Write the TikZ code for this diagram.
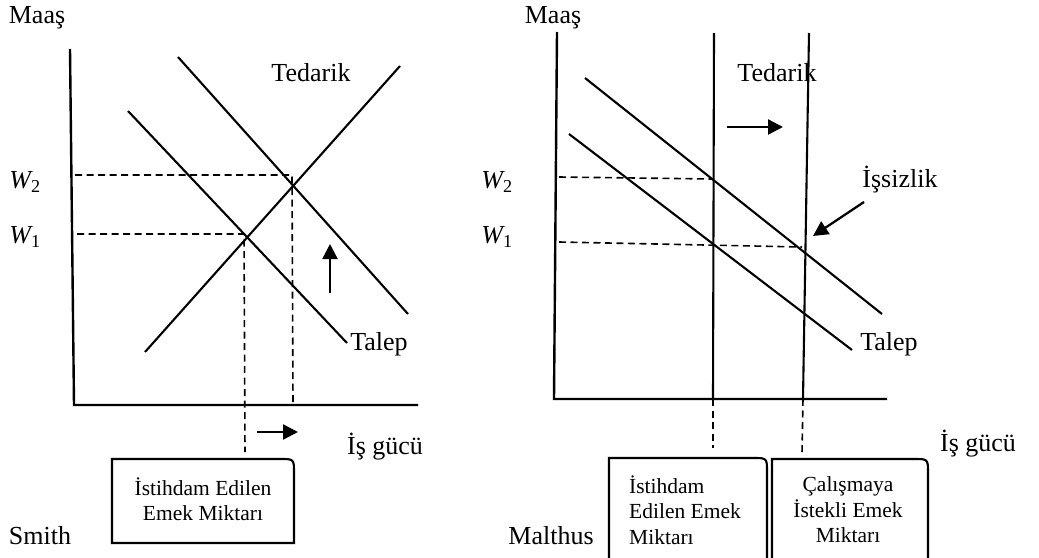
\documentclass[tikz,border=0pt]{standalone}
\usepackage{fontspec}
\setmainfont{Liberation Serif}
\usetikzlibrary{arrows.meta}
\begin{document}
\begin{tikzpicture}[x=1pt,y=-1pt,
  curve/.style={line width=2.1pt},
  axis/.style={line width=2.4pt},
  guide/.style={line width=1.6pt, dash pattern=on 7pt off 4.5pt},
  shiftarrow/.style={line width=2.3pt,-{Triangle[length=15pt,width=15pt]}},
  lbl/.style={font=\fontsize{26}{30}\selectfont, inner sep=0pt},
  boxtext/.style={font=\fontsize{21.5}{25.5}\selectfont, inner sep=0pt, align=center},
  boxline/.style={line width=2.1pt}]
\useasboundingbox (0,0) rectangle (1039,557);

% ---------------- Smith (left) ----------------
\coordinate (LyT) at (70,49);
\coordinate (Lo) at (74,405);
\coordinate (LxR) at (418,405);
\draw[axis] (LyT) -- (Lo) -- (LxR);

\coordinate (LD2a) at (178,57);  \coordinate (LD2b) at (408,314);
\coordinate (LD1a) at (128,111); \coordinate (LD1b) at (347,343);
\coordinate (LSa) at (145,352);  \coordinate (LSb) at (400,66);
\draw[curve] (LD2a) -- (LD2b);
\draw[curve] (LD1a) -- (LD1b);
\draw[curve] (LSa) -- (LSb);

\coordinate (LW2s) at (75,175); \coordinate (LW2c) at (292,175); \coordinate (LW2e) at (293,402);
\coordinate (LW1s) at (77,234); \coordinate (LW1c) at (244,234); \coordinate (LW1e) at (245,452);
\draw[guide] (LW2s) -- (LW2c) -- (LW2e);
\draw[guide] (LW1s) -- (LW1c) -- (LW1e);

\coordinate (LupA) at (330,293); \coordinate (LupB) at (330,244);
\draw[shiftarrow] (LupA) -- (LupB);
\coordinate (LrA) at (257,432); \coordinate (LrB) at (298,432);
\draw[shiftarrow] (LrA) -- (LrB);

\node[lbl] (Lmaas) at (37,18) {Maaş};
\node[lbl] (Lted) at (311,73) {Tedarik};
\node[lbl] (Ltal) at (379,344) {Talep};
\node[lbl] (LW2) at (25,182) {\itshape W\textsubscript{\upshape 2}};
\node[lbl] (LW1) at (25,237) {\itshape W\textsubscript{\upshape 1}};
\node[lbl] (Lis) at (385,447) {İş gücü};
\node[lbl] (Lsmith) at (40,536) {Smith};

\draw[boxline] (112,543) -- (112,459) -- (280,459) .. controls (294,459) .. (294,473) -- (294,543) -- cycle;
\node[boxtext] (LboxT) at (203,499) {İstihdam Edilen\\Emek Miktarı};

% ---------------- Malthus (right) ----------------
\coordinate (RyT) at (557,32);
\coordinate (Ro) at (554,399);
\coordinate (RxR) at (887,399);
\draw[axis] (RyT) -- (Ro) -- (RxR);

\coordinate (RV1a) at (714,33); \coordinate (RV1b) at (713,399); \coordinate (RV1c) at (713,448);
\coordinate (RV2a) at (809,33); \coordinate (RV2b) at (803,399); \coordinate (RV2c) at (802,453);
\draw[curve] (RV1a) -- (RV1b);
\draw[curve] (RV2a) -- (RV2b);
\draw[guide] (RV1b) -- (RV1c);
\draw[guide] (RV2b) -- (RV2c);

\coordinate (RD2a) at (585,78);  \coordinate (RD2b) at (882,314);
\coordinate (RD1a) at (569,134); \coordinate (RD1b) at (852,350);
\draw[curve] (RD2a) -- (RD2b);
\draw[curve] (RD1a) -- (RD1b);

\coordinate (RW2s) at (559,177); \coordinate (RW2e) at (713,179);
\coordinate (RW1s) at (559,242); \coordinate (RW1e) at (802,247);
\draw[guide] (RW2s) -- (RW2e);
\draw[guide] (RW1s) -- (RW1e);

\coordinate (RrA) at (727,127); \coordinate (RrB) at (783,127);
\draw[shiftarrow] (RrA) -- (RrB);

\node[lbl] (Rmaas) at (553,18) {Maaş};
\node[lbl] (Rted) at (777,73) {Tedarik};
\node[lbl] (Rtal) at (889,344) {Talep};
\node[lbl] (Rissiz) at (900,180) {İşsizlik};
\node[lbl] (RW2) at (497,182) {\itshape W\textsubscript{\upshape 2}};
\node[lbl] (RW1) at (497,237) {\itshape W\textsubscript{\upshape 1}};
\node[lbl] (Ris) at (978,444) {İş gücü};
\node[lbl] (Rmalthus) at (551,536) {Malthus};

\coordinate (RiA) at (864,202); \coordinate (RiB) at (813,236);
\draw[shiftarrow] (RiA) -- (RiB);

\draw[boxline] (609,565) -- (609,458) -- (753,458) .. controls (767,458) .. (767,472) -- (767,565);
\node[boxtext, align=left, anchor=west] (RboxA) at (629,510) {İstihdam\\Edilen Emek\\Miktarı};

\draw[boxline] (772,565) -- (772,459) -- (914,459) .. controls (928,459) .. (928,473) -- (928,565);
\node[boxtext] (RboxB) at (848,510) {Çalışmaya\\İstekli Emek\\Miktarı};
\end{tikzpicture}
\end{document}
